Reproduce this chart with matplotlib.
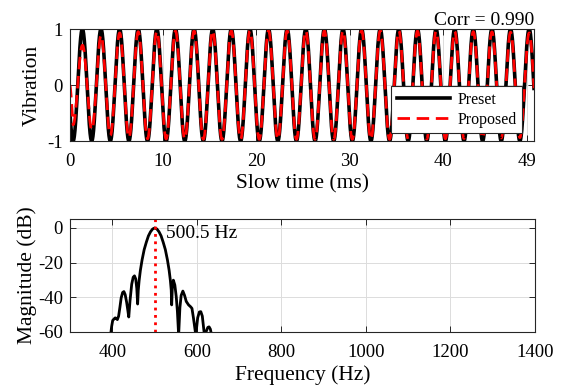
import numpy as np
import matplotlib
matplotlib.use("Agg")
import matplotlib.pyplot as plt

plt.rcParams['font.family'] = ['Liberation Serif', 'DejaVu Serif']
plt.rcParams['axes.unicode_minus'] = False

# top panel: vibration signal
t_end_ms = 49.8
preset_freq_hz = 500.5
preset_first_trough_ms = 0.33
# proposed signal amplitude (envelope) at selected times
proposed_env_t = [0, 0.33, 1.33, 2.33, 3.33, 4.33, 5.33, 8, 15, 25, 35, 45, 48.3, 49.3, 49.8]
proposed_env = [0, 0.71, 0.71, 0.80, 0.89, 0.90, 0.93, 0.96, 0.97, 0.97, 0.97, 0.95, 0.94, 0.93, 0.93]
corr_value = 0.990
time_ticks = [0, 10, 20, 30, 40, 49]

# bottom panel: spectrum (Hz, dB)
spec_freq = [396, 398.5, 401, 404.7, 407, 409.4, 412, 415, 418, 421, 424.5, 427.5,
             430.5, 434, 437, 439, 442, 446, 449.5, 452.5, 455.5, 458, 460,
             461.5, 463.5, 466.5, 470.5, 475.5, 480.5, 485.5, 490.5, 495.5, 500.5,
             505.5, 510.5, 515.5, 520.5, 525.5, 530.5, 534.5, 537.5, 539.5, 540.5,
             542, 544.5, 548, 551.3, 554, 557, 560, 563, 567, 571, 575, 580.5,
             585, 588.5, 592, 597.6, 602, 606, 609.4, 613, 618, 622, 626, 629,
             632, 635]
spec_db = [-62, -57, -53.5, -52.5, -52, -52.3, -53, -51, -46, -40.5, -37.3, -36.8,
           -38.5, -43, -48, -51.5, -42, -32.5, -28.5, -27.7, -29.5, -35, -44,
           -36, -30.5, -24.5, -18.5, -12.5, -8.3, -4.6, -2.2, -0.6, 0,
           -0.6, -2.2, -4.6, -8.3, -12.5, -18.5, -24.5, -30.5, -36, -44.5,
           -35, -30.2, -33, -39.7, -48, -62, -46, -39, -36.5, -39, -42.5, -44.5,
           -45.5, -46.5, -52, -62, -52, -48.6, -48.4, -51, -62, -60, -57.5, -57.2,
           -58.5, -62]
peak_freq = 500.5
freq_ticks = [400, 600, 800, 1000, 1200, 1400]
db_ticks = [-60, -40, -20, 0]

# ---- signals ----
t = np.linspace(0, t_end_ms, 3000)
preset = -np.cos(2 * np.pi * preset_freq_hz * 1e-3 * (t - preset_first_trough_ms))
proposed = np.interp(t, proposed_env_t, proposed_env) * preset

fig = plt.figure(figsize=(5.62, 3.89), dpi=100)
ax1 = fig.add_axes([70 / 562, 1 - 141 / 389, 464 / 562, 112 / 389])
ax2 = fig.add_axes([70 / 562, 1 - 331.7 / 389, 465 / 562, 112.4 / 389])

for ax in (ax1, ax2):
    ax.grid(True, color='#dcdcdc', linewidth=0.7)
    ax.set_axisbelow(True)
    ax.tick_params(direction='in', top=True, right=True, labelsize=13.5,
                   length=4, width=0.7, color='#262626')
    ax.tick_params(axis='x', pad=9)
    ax.tick_params(axis='y', pad=5)
    for s in ax.spines.values():
        s.set_linewidth(0.8)
        s.set_color('#262626')

ax1.plot(t, preset, color='black', lw=2.6, label='Preset')
ax1.plot(t, proposed, color='red', lw=2.0, ls='--', dashes=(4.5, 2.4), label='Proposed')
ax1.set_xlim(0, t_end_ms)
ax1.set_ylim(-1, 1)
ax1.set_xticks(time_ticks)
ax1.set_yticks([-1, 0, 1])
ax1.set_xlabel('Slow time (ms)', fontsize=15.5, labelpad=3)
ax1.set_ylabel('Vibration', fontsize=15.5, labelpad=4)
ax1.text(1.0, 1.0, 'Corr = %.3f' % corr_value, transform=ax1.transAxes,
         ha='right', va='bottom', fontsize=14)
leg = ax1.legend(loc='lower right', bbox_to_anchor=(0.975, 0.07), fontsize=11.5,
                 frameon=True, fancybox=False, framealpha=1, edgecolor='#262626',
                 handlelength=3.3, borderpad=0.35, labelspacing=0.25, handletextpad=0.5,
                 borderaxespad=0)
leg.get_frame().set_linewidth(0.8)

ax2.plot(spec_freq, spec_db, color='black', lw=2.0)
ax2.axvline(peak_freq, color='red', lw=2.0, ls=':')
ax2.set_xlim(300, 1400)
ax2.set_ylim(-60, 5)
ax2.set_xticks(freq_ticks)
ax2.set_yticks(db_ticks)
ax2.set_xlabel('Frequency (Hz)', fontsize=15.5, labelpad=3)
ax2.set_ylabel('Magnitude (dB)', fontsize=15.5, labelpad=1)
ax2.text(peak_freq + 26, -3.3, '%.1f Hz' % peak_freq, ha='left', va='center', fontsize=14)

fig.savefig('out.png', dpi=100)
